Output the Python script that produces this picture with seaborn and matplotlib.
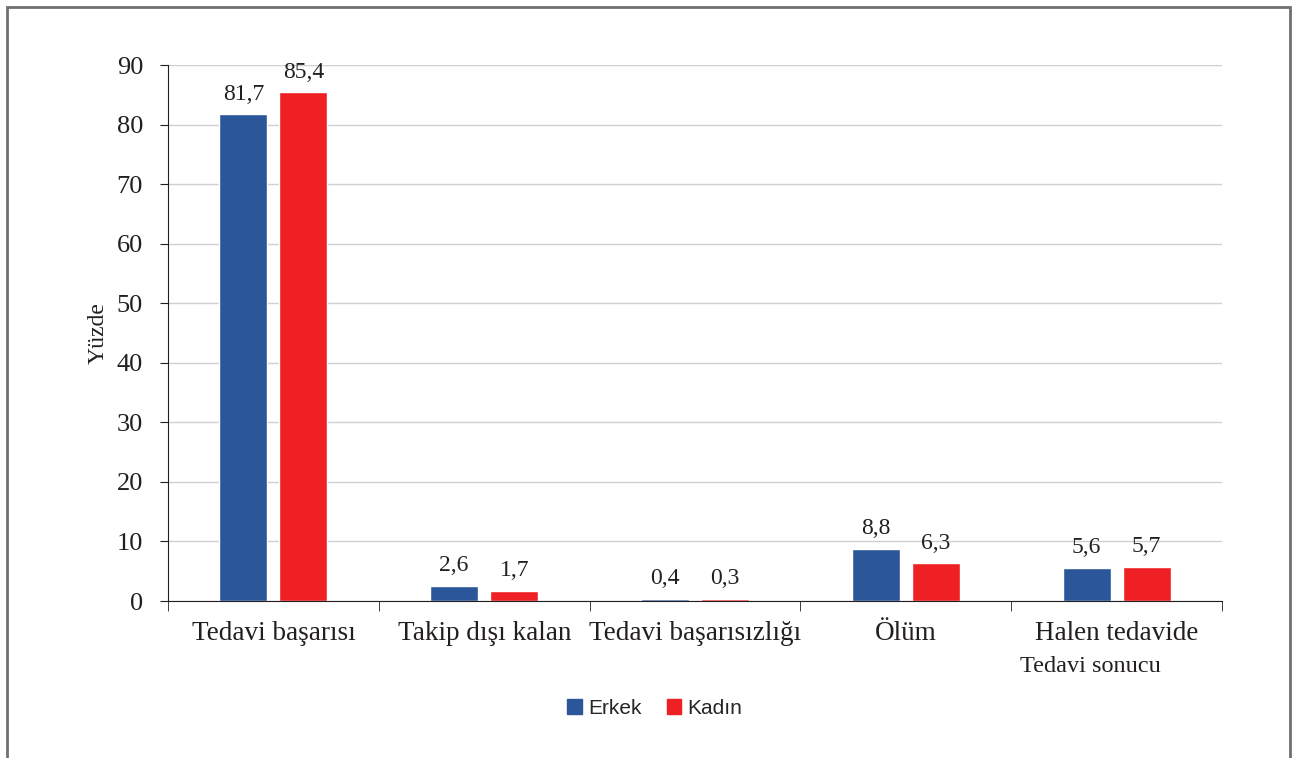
import numpy as np
import pandas as pd
import matplotlib
matplotlib.use('Agg')
import matplotlib.pyplot as plt
import seaborn as sns
from matplotlib.patches import Rectangle

categories = ['Tedavi başarısı', 'Takip dışı kalan', 'Tedavi başarısızlığı', 'Ölüm', 'Halen tedavide']
erkek = [81.7, 2.6, 0.4, 8.8, 5.6]
kadin = [85.4, 1.7, 0.3, 6.3, 5.7]
groups = ['Erkek', 'Kadın']
colors = ['#2B579A', '#EE2024']

df = pd.DataFrame({
    'Tedavi sonucu': categories * 2,
    'Yüzde': erkek + kadin,
    'Cinsiyet': [groups[0]] * len(categories) + [groups[1]] * len(categories),
})

sns.set_style('white')
plt.rcParams['font.family'] = ['Liberation Serif', 'DejaVu Serif']

fig = plt.figure(figsize=(12.97, 7.58), dpi=100)
ax = fig.add_axes([168 / 1297, 1 - 601 / 758, (1222 - 168) / 1297, (601 - 65) / 758])

sns.barplot(data=df, x='Tedavi sonucu', y='Yüzde', hue='Cinsiyet',
            palette=colors, width=0.57, gap=0.2, saturation=1,
            ax=ax, legend=False)

for cont in ax.containers:
    ax.bar_label(cont, labels=[f'{v:.1f}'.replace('.', ',') for v in cont.datavalues],
                 padding=7, fontsize=17, color='#231f20')

ax.set_ylim(0, 90)
ax.set_yticks(range(0, 91, 10))
ax.set_xlim(-0.5, len(categories) - 0.5)
ax.yaxis.grid(True, color='#d0d0d0', linewidth=1)
ax.set_axisbelow(True)
for s in ['top', 'right']:
    ax.spines[s].set_visible(False)
ax.spines['left'].set_color('#231f20')
ax.spines['bottom'].set_color('#231f20')

ax.tick_params(axis='y', left=True, length=6, color='#231f20', labelsize=19, pad=12, labelcolor='#231f20')
ax.tick_params(axis='x', bottom=False, labelsize=19.5, pad=11, labelcolor='#231f20')
ax.set_xticks(np.arange(-0.5, len(categories)), minor=True)
ax.tick_params(axis='x', which='minor', bottom=True, length=7, color='#231f20')

ax.set_ylabel('Yüzde', fontsize=17, color='#231f20', labelpad=6)
ax.set_xlabel('')
fig.text(1090 / 1297, 1 - 666 / 758, 'Tedavi sonucu', ha='center', va='center',
         fontsize=17.5, color='#231f20')

handles = [Rectangle((0, 0), 1, 1, color=c) for c in colors]
fig.legend(handles, groups, loc='center', bbox_to_anchor=(655 / 1297, 1 - 708 / 758),
           ncol=2, frameon=False, handlelength=0.7, handleheight=0.7,
           handletextpad=0.3, columnspacing=1.2,
           prop={'family': 'Liberation Sans', 'size': 15})

fig.patches.append(Rectangle((7 / 1297, -0.05), (1290 - 7) / 1297, 1 - 7 / 758 + 0.05,
                             transform=fig.transFigure, fill=False,
                             edgecolor='#707070', linewidth=2))

fig.savefig('out.png', dpi=100)
